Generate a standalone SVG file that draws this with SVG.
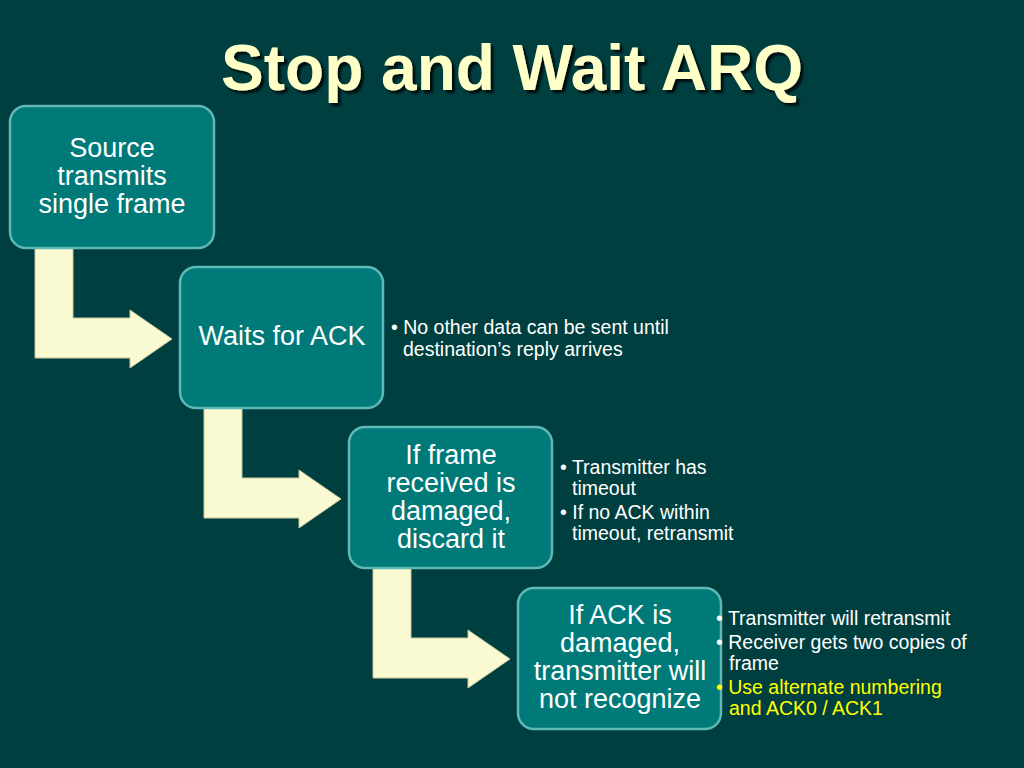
<svg xmlns="http://www.w3.org/2000/svg" width="1024" height="768" viewBox="0 0 1024 768">
<defs>
<style>
.box{fill:#007a78;stroke:#5fb8b4;stroke-width:2.5}
.bt{font-family:"Liberation Sans",Arial,sans-serif;font-size:27px;fill:#fff;text-anchor:middle}
.nt{font-family:"Liberation Sans",Arial,sans-serif;font-size:19.5px;fill:#fff}
.arr{fill:#fafad2;stroke:#c8c8a0;stroke-width:1}
</style>
<filter id="sh" x="-10%" y="-30%" width="120%" height="160%"><feDropShadow dx="3" dy="3" stdDeviation="0.8" flood-color="#000" flood-opacity="0.8"/></filter>
<path id="a" d="M35,248 H73 V318 H130 V310 L172,339 L130,368 V358 H35 Z"/>
</defs>
<rect width="1024" height="768" fill="#003f3f"/>
<text x="512" y="90" font-family="Liberation Sans,Arial,sans-serif" font-size="64" font-weight="bold" fill="#ffffc8" text-anchor="middle" filter="url(#sh)">Stop and Wait ARQ</text>
<g id="connectors">
<use href="#a" class="arr"/>
<use href="#a" class="arr" transform="translate(169,160)"/>
<use href="#a" class="arr" transform="translate(338,320)"/>
</g>
<g id="n1"><rect class="box" x="10" y="106" width="204" height="142" rx="16"/>
<text class="bt" x="112" y="157">Source</text><text class="bt" x="112" y="185">transmits</text><text class="bt" x="112" y="213">single frame</text></g>
<g id="n2"><rect class="box" x="180" y="267" width="203" height="141" rx="16"/>
<text class="bt" x="282" y="345">Waits for ACK</text>
<text class="nt" x="391" y="334">• No other data can be sent until</text><text class="nt" x="403" y="356">destination’s reply arrives</text></g>
<g id="n3"><rect class="box" x="349" y="427" width="203" height="141" rx="16"/>
<text class="bt" x="451" y="464">If frame</text><text class="bt" x="451" y="492">received is</text><text class="bt" x="451" y="520">damaged,</text><text class="bt" x="451" y="548">discard it</text>
<text class="nt" x="560" y="474">• Transmitter has</text><text class="nt" x="572" y="495">timeout</text><text class="nt" x="560" y="519">• If no ACK within</text><text class="nt" x="572" y="540">timeout, retransmit</text></g>
<g id="n4"><rect class="box" x="518" y="588" width="203" height="141" rx="16"/>
<text class="bt" x="620" y="624">If ACK is</text><text class="bt" x="620" y="652">damaged,</text><text class="bt" x="620" y="680">transmitter will</text><text class="bt" x="620" y="708">not recognize</text>
<text class="nt" x="716" y="625">• Transmitter will retransmit</text><text class="nt" x="716" y="649">• Receiver gets two copies of</text><text class="nt" x="729" y="670">frame</text>
<text class="nt" x="716" y="694" style="fill:#ffff00">• Use alternate numbering</text><text class="nt" x="729" y="715" style="fill:#ffff00">and ACK0 / ACK1</text></g>
</svg>
